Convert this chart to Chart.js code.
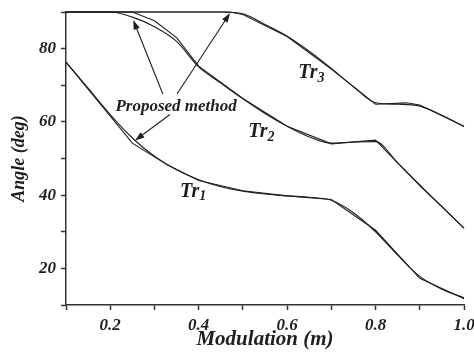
<!DOCTYPE html>
<html>
<head>
<meta charset="utf-8">
<script src="https://cdn.jsdelivr.net/npm/chart.js@4"></script>
<style>
  html, body { margin: 0; padding: 0; background: #fff; overflow: hidden; }
  #wrap { width: 474px; height: 356px; }
</style>
</head>
<body>
<div id="wrap"><canvas id="chart" width="474" height="356"></canvas></div>
<script>
// Dados
const modulation = [0.10,0.15,0.20,0.25,0.30,0.35,0.40,0.45,0.50,0.55,0.60,0.65,0.70,0.75,0.80,0.85,0.90,0.95,1.00];
const tr1Smooth = [76.3,69.2,62.0,55.6,50.6,46.9,44.2,42.3,41.1,40.3,39.8,39.4,38.6,35.2,30.0,23.6,17.8,14.3,12.0];
const tr2Smooth = [90,90,90,88.6,86.0,82.0,75.0,70.6,66.3,62.3,58.8,55.9,54.2,54.5,54.6,48.8,42.8,36.9,31.0];
const tr3Smooth = [90,90,90,90,90,90,90,90,89.5,86.6,83.4,79.3,74.6,69.6,65.2,64.8,64.3,61.8,58.7];

// Método proposto (segmentos lineares)
const modTr1Prop = [0.10,0.25,0.33,0.40,0.50,0.60,0.70,0.80,0.90,1.00];
const tr1Prop = [76.3,54.2,48.2,44.0,41.2,39.8,38.8,30.4,17.3,11.7];
const modTr2Prop = [0.10,0.25,0.30,0.35,0.40,0.50,0.60,0.70,0.80,0.90,1.00];
const tr2Prop = [90,90,87.6,83.0,75.2,66.4,58.8,54.0,55.0,42.6,31.0];
const modTr3Prop = [0.10,0.47,0.50,0.60,0.70,0.80,0.87,0.90,1.00];
const tr3Prop = [90,90,89.3,83.3,74.4,64.8,65.2,64.6,58.8];

const xTicks = [0.2,0.4,0.6,0.8,1.0];
const yTicks = [20,40,60,80];

// Rótulos e setas (coordenadas de dados; x = borda esquerda do texto Tr)
const trLabels = [
  { sub: '1', x: 0.358, y: 40.9 },
  { sub: '2', x: 0.512, y: 57.2 },
  { sub: '3', x: 0.625, y: 73.3 }
];
const proposedText = { text: 'Proposed method', x: 0.349, y: 64.3 };
const arrows = [
  { from: [0.319, 67.6], to: [0.252, 87.8] },
  { from: [0.351, 67.6], to: [0.471, 89.7] },
  { from: [0.335, 62.0], to: [0.256, 54.9] }
];

const pts = (xs, ys) => xs.map((x, i) => ({ x, y: ys[i] }));
const FONT = '"Liberation Serif", "DejaVu Serif", serif';
const INK = '#1e1e1e';

const smoothSet = ys => ({
  data: pts(modulation, ys),
  borderColor: INK, borderWidth: 1.1, pointRadius: 0,
  cubicInterpolationMode: 'monotone', clip: false
});
const propSet = (xs, ys) => ({
  data: pts(xs, ys),
  borderColor: INK, borderWidth: 1.1, pointRadius: 0,
  tension: 0, clip: false
});

const annotations = {
  id: 'annotations',
  afterDatasetsDraw(chart) {
    const { ctx, scales: { x, y } } = chart;
    ctx.save();
    ctx.fillStyle = INK;
    ctx.strokeStyle = INK;
    ctx.textBaseline = 'middle';
    ctx.textAlign = 'left';
    // Tr labels
    trLabels.forEach(l => {
      const px = x.getPixelForValue(l.x), py = y.getPixelForValue(l.y);
      ctx.font = 'italic bold 20px ' + FONT;
      const w = ctx.measureText('Tr').width;
      ctx.fillText('Tr', px, py);
      ctx.font = 'italic bold 14px ' + FONT;
      ctx.fillText(l.sub, px + w, py + 5);
    });
    // texto
    ctx.font = 'italic bold 17px ' + FONT;
    ctx.textAlign = 'center';
    ctx.fillText(proposedText.text, x.getPixelForValue(proposedText.x), y.getPixelForValue(proposedText.y));
    // setas
    ctx.lineWidth = 1.1;
    arrows.forEach(a => {
      const x0 = x.getPixelForValue(a.from[0]), y0 = y.getPixelForValue(a.from[1]);
      const x1 = x.getPixelForValue(a.to[0]), y1 = y.getPixelForValue(a.to[1]);
      const ang = Math.atan2(y1 - y0, x1 - x0);
      const len = 10, half = 0.33;
      ctx.beginPath();
      ctx.moveTo(x0, y0);
      ctx.lineTo(x1 - Math.cos(ang) * len * 0.8, y1 - Math.sin(ang) * len * 0.8);
      ctx.stroke();
      ctx.beginPath();
      ctx.moveTo(x1, y1);
      ctx.lineTo(x1 - len * Math.cos(ang - half), y1 - len * Math.sin(ang - half));
      ctx.lineTo(x1 - len * Math.cos(ang + half), y1 - len * Math.sin(ang + half));
      ctx.closePath();
      ctx.fill();
    });
    ctx.restore();
  }
};

const near = (v, list) => list.some(t => Math.abs(v - t) < 1e-6);

new Chart(document.getElementById('chart'), {
  type: 'line',
  data: {
    datasets: [
      smoothSet(tr1Smooth), propSet(modTr1Prop, tr1Prop),
      smoothSet(tr2Smooth), propSet(modTr2Prop, tr2Prop),
      smoothSet(tr3Smooth), propSet(modTr3Prop, tr3Prop)
    ]
  },
  options: {
    responsive: false,
    animation: false,
    layout: { padding: { left: 0, right: 10, top: 12, bottom: 0 } },
    plugins: { legend: { display: false }, tooltip: { enabled: false } },
    scales: {
      x: {
        type: 'linear', min: 0.1, max: 1.0,
        border: { color: '#333', width: 1.5 },
        grid: { drawOnChartArea: false, drawTicks: true, tickLength: 5, color: '#333', tickWidth: 1.5 },
        ticks: {
          stepSize: 0.1, padding: 5, color: INK,
          font: { family: FONT, size: 17, style: 'italic', weight: 'bold' },
          maxRotation: 0, autoSkip: false,
          callback: v => near(v, xTicks) ? v.toFixed(1) : ''
        },
        title: {
          display: true, text: 'Modulation (m)', color: INK,
          font: { family: FONT, size: 21, style: 'italic', weight: 'bold' },
          padding: { top: 0, bottom: 4 }
        },
        afterFit(scale) { scale.height = 51; scale.paddingLeft = 0; scale.paddingRight = 0; }
      },
      y: {
        min: 10, max: 90,
        border: { color: '#333', width: 1.5 },
        grid: { drawOnChartArea: false, drawTicks: true, tickLength: 5, color: '#333', tickWidth: 1.5 },
        ticks: {
          stepSize: 10, padding: 5, color: INK,
          font: { family: FONT, size: 17, style: 'italic', weight: 'bold' },
          callback: v => near(v, yTicks) ? String(v) : ''
        },
        title: {
          display: true, text: 'Angle (deg)', color: INK,
          font: { family: FONT, size: 18, style: 'italic', weight: 'bold' },
          padding: { top: 9, bottom: 0 }
        },
        afterFit(scale) { scale.width = 66; scale.paddingTop = 0; scale.paddingBottom = 0; }
      }
    }
  },
  plugins: [annotations]
});
</script>
</body>
</html>
